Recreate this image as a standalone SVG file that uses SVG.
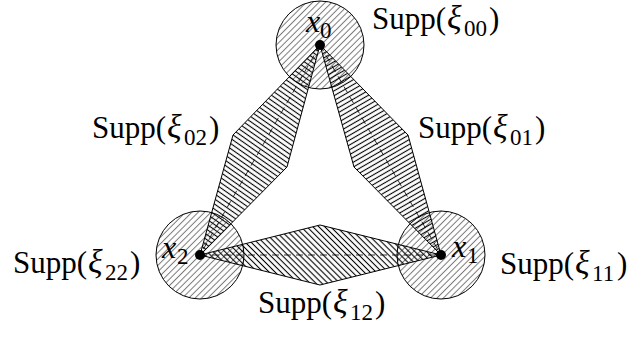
<svg xmlns="http://www.w3.org/2000/svg" width="630" height="338" viewBox="0 0 630 338">
<style>
.circ{fill:url(#hc);stroke:#000;stroke-width:1}
.loz{stroke:#000;stroke-width:1;stroke-linejoin:miter}
.dash{stroke:#000;stroke-width:0.8;stroke-dasharray:7 5;fill:none}
.dot{fill:#000}
text{font-family:"Liberation Serif","Times New Roman",serif;fill:#000}
.t{font-size:31px}
.xi{font-size:34px;font-style:italic}
.sub{font-size:23px}
.var{font-size:32px;font-style:italic}
</style>
<defs>
<pattern id="hc" patternUnits="userSpaceOnUse" width="4.5" height="4.5" patternTransform="rotate(-45)">
<rect width="4.5" height="4.5" fill="#fff"/>
<line x1="0" y1="2.25" x2="4.5" y2="2.25" stroke="#7a7a7a" stroke-width="1"/>
</pattern>
<pattern id="hl" patternUnits="userSpaceOnUse" width="4.2" height="4.2" patternTransform="rotate(35)">
<line x1="0" y1="2.1" x2="4.2" y2="2.1" stroke="#000" stroke-width="1.1"/>
</pattern>
<pattern id="hr" patternUnits="userSpaceOnUse" width="4.2" height="4.2" patternTransform="rotate(-30)">
<line x1="0" y1="2.1" x2="4.2" y2="2.1" stroke="#000" stroke-width="1.1"/>
</pattern>
<pattern id="hb" patternUnits="userSpaceOnUse" width="4.2" height="4.2" patternTransform="rotate(45)">
<line x1="0" y1="2.1" x2="4.2" y2="2.1" stroke="#000" stroke-width="1.1"/>
</pattern>
</defs>
<g id="supp00"><circle class="circ" cx="320" cy="45" r="44"/></g>
<g id="supp22"><circle class="circ" cx="200" cy="255" r="44"/></g>
<g id="supp11"><circle class="circ" cx="441" cy="255" r="44"/></g>
<g id="supp02"><polygon class="loz" fill="url(#hl)" points="320,45 233,135 200,255 287,167"/></g>
<g id="supp01"><polygon class="loz" fill="url(#hr)" points="320,45 408,135 441,255 354,167"/></g>
<g id="supp12"><polygon class="loz" fill="url(#hb)" points="200,255 320,225 441,255 320,285"/></g>
<g id="connectors">
<line class="dash" x1="320" y1="45" x2="200" y2="255"/>
<line class="dash" x1="320" y1="45" x2="441" y2="255"/>
<line class="dash" x1="200" y1="255" x2="441" y2="255"/>
</g>
<g id="x0"><circle class="dot" cx="320" cy="45" r="5"/>
<text class="var" x="306" y="32">x</text><text class="sub" x="320" y="38">0</text></g>
<g id="x2"><circle class="dot" cx="200" cy="255" r="5"/>
<text class="var" x="162" y="258">x</text><text class="sub" x="177" y="264">2</text></g>
<g id="x1"><circle class="dot" cx="441" cy="255" r="5"/>
<text class="var" x="452" y="257">x</text><text class="sub" x="467" y="263">1</text></g>
<g id="labels">
<text class="t" x="372" y="29">Supp(<tspan class="xi" x="447">ξ</tspan><tspan class="sub" x="464" y="36">00</tspan><tspan x="489" y="29">)</tspan></text>
<text class="t" x="92" y="138">Supp(<tspan class="xi" x="167">ξ</tspan><tspan class="sub" x="184" y="145">02</tspan><tspan x="209" y="138">)</tspan></text>
<text class="t" x="418" y="138">Supp(<tspan class="xi" x="493">ξ</tspan><tspan class="sub" x="510" y="145">01</tspan><tspan x="535" y="138">)</tspan></text>
<text class="t" x="13" y="273">Supp(<tspan class="xi" x="88">ξ</tspan><tspan class="sub" x="105" y="280">22</tspan><tspan x="130" y="273">)</tspan></text>
<text class="t" x="500" y="274">Supp(<tspan class="xi" x="575">ξ</tspan><tspan class="sub" x="592" y="281">11</tspan><tspan x="617" y="274">)</tspan></text>
<text class="t" x="258" y="313">Supp(<tspan class="xi" x="333">ξ</tspan><tspan class="sub" x="350" y="320">12</tspan><tspan x="375" y="313">)</tspan></text>
</g>
</svg>
